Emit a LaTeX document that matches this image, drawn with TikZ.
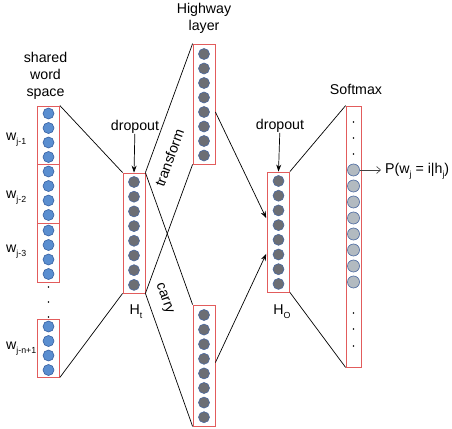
\documentclass[tikz,border=0pt]{standalone}
\usepackage{fontspec}
\setmainfont{Liberation Sans}
\usepackage{tikz}
\usetikzlibrary{arrows.meta,positioning,calc}
\definecolor{boxred}{RGB}{226,92,92}
\definecolor{wordblue}{RGB}{90,142,208}
\definecolor{wordedge}{RGB}{55,95,160}
\definecolor{unitgray}{RGB}{108,110,116}
\definecolor{unitedge}{RGB}{75,105,160}
\definecolor{softgray}{RGB}{178,186,192}
\newcommand{\lowidx}[1]{\raisebox{-0.55ex}{\fontsize{8.8}{9}\selectfont #1}}
\tikzset{
  layer box/.style={
    draw=boxred,
    line width=0.8pt,
    minimum width=22,
    inner sep=0pt
  },
  word unit/.style={
    circle,
    draw=wordedge,
    fill=wordblue,
    line width=0.6pt,
    minimum size=11,
    inner sep=0pt
  },
  hidden unit/.style={
    word unit,
    draw=unitedge,
    fill=unitgray
  },
  soft unit/.style={
    word unit,
    draw=unitedge,
    fill=softgray,
    minimum size=12
  },
  link/.style={
    line width=0.7pt
  },
  arrow/.style={
    link,
    -{Stealth[length=7pt,width=5pt]}
  },
  txt/.style={
    font=\fontsize{14.2}{17}\selectfont,
    inner sep=0pt,
    align=center
  },
  dotmark/.style={
    circle,
    fill=black,
    minimum size=1.6,
    inner sep=0pt
  }
}
\begin{document}
\begin{tikzpicture}[x=1pt, y=-1pt]
  \useasboundingbox (0,0) rectangle (452,428);

  % Input word boxes
  \node[layer box, minimum height=58] (in1) at (48.5,135) {};
  \node[layer box, minimum height=59] (in2) at (48.5,193.5) {};
  \node[layer box, minimum height=59] (in3) at (48.5,252.5) {};
  \node[layer box, minimum height=58] (in4) at (48.5,348) {};
  \foreach \b/\t in {1/106,2/164,3/223,4/319}
    \foreach \i in {1,...,4}
      \node[word unit] (w\b\i) at (48.5,{\t+7.5+14.5*(\i-1)}) {};
  \foreach \y [count=\k] in {287,302,317}
    \node[dotmark] (idot\k) at (48.5,\y) {};

  % Hidden layers
  \node[layer box, minimum height=120] (ht) at (134,233) {};
  \node[layer box, minimum height=120] (hwtop) at (204,104) {};
  \node[layer box, minimum height=121] (hwbot) at (204,365.5) {};
  \node[layer box, minimum height=120] (ho) at (278.5,232) {};
  \foreach \i in {1,...,8} {
    \node[hidden unit] (t\i) at (134,{182+14.7*(\i-1)}) {};
    \node[hidden unit] (g\i) at (204,{54+14.5*(\i-1)}) {};
    \node[hidden unit] (c\i) at (204,{315+14.6*(\i-1)}) {};
    \node[hidden unit] (o\i) at (278.5,{181+14.7*(\i-1)}) {};
  }

  % Softmax
  \node[layer box, minimum width=15, minimum height=261] (soft) at (353.5,236.5) {};
  \foreach \i in {1,...,8}
    \node[soft unit] (s\i) at (353.5,{170+16*(\i-1)}) {};
  \foreach \y [count=\k] in {122,138,154,313,329,346}
    \node[dotmark] (sdot\k) at (353.5,\y) {};

  % Labels
  \node[txt] (shared) at (45.5,76) {shared\\word\\space};
  \node[txt] (hwlabel) at (204,18) {Highway\\layer};
  \node[txt] (smlabel) at (356,89) {Softmax};
  \node[txt, anchor=west] (lw1) at (6,140) {w\lowidx{j-1}};
  \node[txt, anchor=west] (lw2) at (6,198) {w\lowidx{j-2}};
  \node[txt, anchor=west] (lw3) at (6,252) {w\lowidx{j-3}};
  \node[txt, anchor=west] (lw4) at (6,349) {w\lowidx{j-n+1}};
  \node[txt] (htlabel) at (136,312) {H\lowidx{t}};
  \node[txt] (holabel) at (282,312) {H\lowidx{O}};
  \node[txt] (drop1) at (135,127) {dropout};
  \node[txt] (drop2) at (280,126) {dropout};
  \node[txt, anchor=west] (prob) at (385,171) {P(w\lowidx{j} = i|h\lowidx{j})};
  \coordinate (pend) at (381,170);

  % Connections
  \draw[link] (in1.north east) -- (ht.north west);
  \draw[link] (in4.south east) -- (ht.south west);
  \draw[link] (ht.north east) -- node[pos=0.16, sloped, below=12pt, txt] {transform} (hwtop.north west);
  \draw[link] (ht.south east) -- (hwtop.south west);
  \draw[link] (ht.north east) -- (hwbot.north west);
  \draw[link] (ht.south east) -- node[pos=0.08, sloped, above=10pt, txt] {carry} (hwbot.south west);
  \draw[arrow, shorten >=2pt] ([yshift=-8pt]hwtop.east) -- ([yshift=12pt]ho.west);
  \draw[arrow, shorten >=2pt] ([yshift=3pt]hwbot.east) -- ([yshift=-20pt]ho.west);
  \draw[link] (ho.north east) -- (soft.north west);
  \draw[link] (ho.south east) -- (soft.south west);

  % Dropout and output arrows
  \draw[arrow] (drop1) -- (ht.north);
  \draw[arrow] (drop2) -- (ho.north);
  \draw[line width=0.6pt, black!75, -{Straight Barb[length=4pt,width=7pt]}] (s1.east) -- (pend);

\end{tikzpicture}
\end{document}
